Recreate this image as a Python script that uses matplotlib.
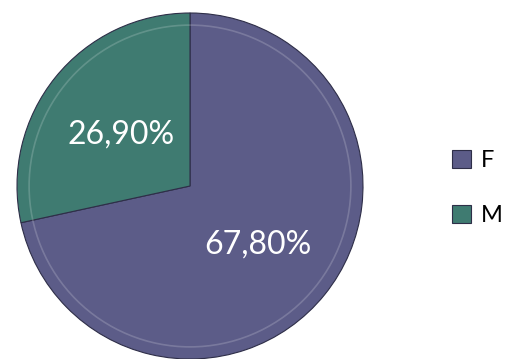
import matplotlib.pyplot as plt

labels = ["F", "M"]
values = [67.80, 26.90]
value_text = ["67,80%", "26,90%"]
colors = ["#5c5c88", "#3f7b71"]

plt.rcParams["font.family"] = ["Lato", "DejaVu Sans"]

fig = plt.figure(figsize=(5.07, 3.59), dpi=100)
ax = fig.add_axes([17 / 507, 0 / 359, 346 / 507, 346 / 359])

# F runs clockwise from 12 o'clock, M fills the upper left
wedges, _ = ax.pie(
    values,
    colors=colors,
    startangle=90,
    counterclock=False,
    wedgeprops={"edgecolor": "#2e2e48", "linewidth": 0.8},
)

ax.set_xlim(-1.0, 1.0)
ax.set_ylim(-1.0, 1.0)
ax.set_aspect("equal")

# soft inner rim, like the bevel in the original
rim = plt.Circle((0, 0), 0.93, fill=False, edgecolor="white", alpha=0.18, linewidth=1.2)
ax.add_patch(rim)

ax.text(0.39, -0.34, value_text[0], ha="center", va="center", color="white", fontsize=23)
ax.text(-0.40, 0.30, value_text[1], ha="center", va="center", color="white", fontsize=23)

fig.legend(
    wedges,
    labels,
    loc="center left",
    bbox_to_anchor=(431 / 507, 1 - 188 / 359),
    frameon=False,
    fontsize=17,
    handlelength=0.8,
    handleheight=0.8,
    handletextpad=0.4,
    labelspacing=1.4,
)

fig.savefig("out.png", dpi=100)
